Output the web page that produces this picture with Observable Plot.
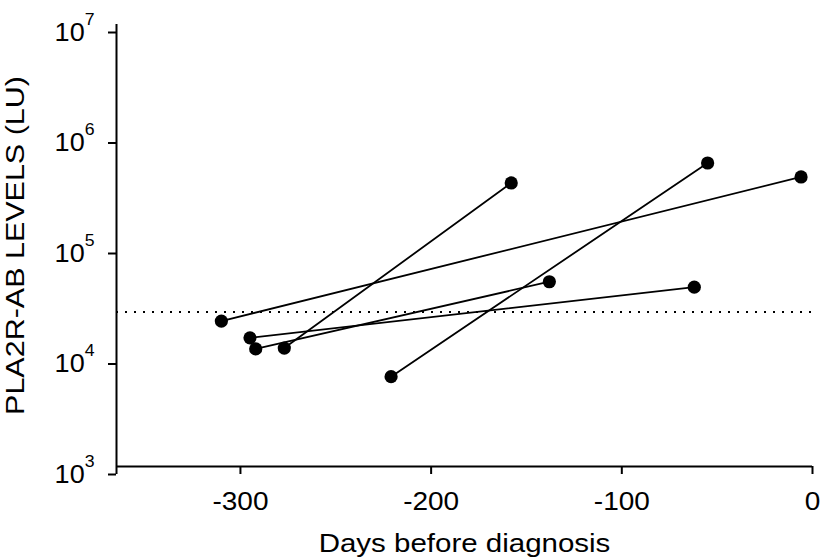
<!DOCTYPE html>
<html>
<head>
<meta charset="utf-8">
<script src="https://cdn.jsdelivr.net/npm/d3@7"></script>
<script src="https://cdn.jsdelivr.net/npm/@observablehq/plot@0.6"></script>
<style>
  html, body { margin: 0; padding: 0; background: white; }
</style>
</head>
<body>
<div id="chart"></div>
<script>
// Data
const patientIds = ["P1", "P2", "P3", "P4", "P5"];
const firstDay   = [-310, -295, -292, -277, -221];
const firstLevel = [20700, 14600, 11600, 11800, 6500];
const lastDay    = [-6, -62, -138, -158, -55];
const lastLevel  = [417000, 42000, 47000, 368000, 558000];
const threshold  = 25000;
const xTicks = [-300, -200, -100, 0];
const yTicks = [1e3, 1e4, 1e5, 1e6, 1e7];
const xDomain = [-365, 0];
const yDomain = [1e3, 1e7];

const rows = patientIds.flatMap((id, i) => [
  {id, day: firstDay[i], level: firstLevel[i]},
  {id, day: lastDay[i], level: lastLevel[i]}
]);

const font = "'Liberation Sans', Arial, Helvetica, sans-serif";

const chart = Plot.plot({
  width: 821,
  height: 559,
  marginLeft: 116,
  marginRight: 9,
  marginTop: 24,
  marginBottom: 93,
  style: {fontFamily: font, fontSize: "24px", color: "black", background: "white"},
  x: {domain: xDomain},
  y: {type: "log", domain: yDomain},
  marks: [
    Plot.ruleY([threshold], {stroke: "black", strokeWidth: 2, strokeDasharray: "2,7"}),
    Plot.line(rows, {x: "day", y: "level", z: "id", stroke: "black", strokeWidth: 1.8}),
    Plot.dot(rows, {x: "day", y: "level", r: 6.6, fill: "black", stroke: "none"}),
    Plot.ruleY([yDomain[0]], {stroke: "black", strokeWidth: 2}),
    Plot.ruleX([xDomain[0]], {stroke: "black", strokeWidth: 2, insetBottom: -8}),
    Plot.axisX({
      ticks: xTicks, tickSize: 8, tickPadding: 18, tickFormat: d => String(d),
      fontSize: 25, stroke: "black", strokeWidth: 2,
      label: "Days before diagnosis", labelAnchor: "center", labelArrow: "none", labelOffset: 85
    }),
    Plot.axisY({
      ticks: yTicks, tickSize: 8, tickPadding: 14,
      tickFormat: d => "10^" + Math.round(Math.log10(d)),
      fontSize: 26, stroke: "black", strokeWidth: 2, dy: 8,
      label: "PLA2R-AB LEVELS (LU)", labelAnchor: "center", labelArrow: "none", labelOffset: 110
    })
  ]
});

const svg = d3.select(chart);

// Turn "10^n" tick labels into 10 with a superscript exponent
svg.selectAll("text").each(function() {
  const t = this.textContent;
  const m = /^10\^(-?\d+)$/.exec(t);
  if (!m) return;
  const sel = d3.select(this);
  sel.text(null);
  sel.append("tspan").text("10");
  sel.append("tspan").attr("dy", "-16").attr("font-size", "17px").text(m[1]);
});

// The reference typeface is set a little wide: stretch glyphs along the text direction
function widen(selector, factor, size) {
  svg.selectAll(selector).each(function() {
    const el = d3.select(this);
    if (size) el.attr("font-size", size);
    let tr = el.attr("transform");
    if (!tr) {
      const x = +(el.attr("x") || 0), y = +(el.attr("y") || 0);
      el.attr("x", null).attr("y", null);
      tr = `translate(${x},${y})`;
    }
    el.attr("transform", `${tr} scale(${factor},1)`);
  });
}
widen('g[aria-label="x-axis tick label"] text', 1.12);
widen('g[aria-label="y-axis tick label"] text', 1.04);
widen('g[aria-label="x-axis label"] text', 1.18, 25);
widen('g[aria-label="y-axis label"] text', 1.22, 25);

document.getElementById("chart").appendChild(chart);
</script>
</body>
</html>
